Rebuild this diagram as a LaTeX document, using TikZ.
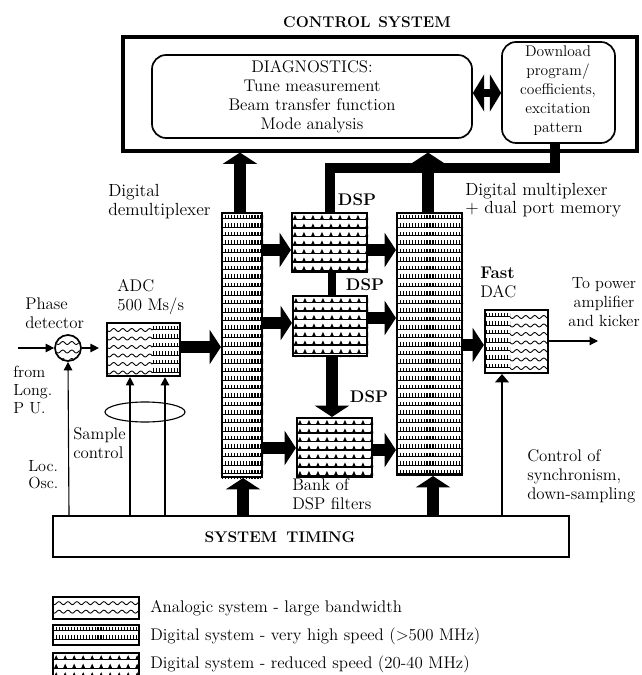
\documentclass[tikz,border=0pt]{standalone}
\usepackage{tikz}
\usetikzlibrary{arrows.meta,fit}

\tikzset{
  blk/.style={draw, line width=1.5pt, inner sep=0pt},
  bus/.style={line width=8pt, -{Triangle[width=24pt,length=8pt]}},
  dbus/.style={line width=6pt, {Triangle[width=26pt,length=8pt]}-{Triangle[width=26pt,length=8pt]}},
  sig/.style={line width=0.8pt, -{Triangle[width=6pt,length=6pt]}},
  % fill patterns of the three kinds of hardware
  analogfill/.style={path picture={
    \begin{scope}[shift={(path picture bounding box.north west)}]
      \foreach \r in {0,...,8}
        \draw[line width=0.6pt] plot[domain=0:100, samples=90, smooth] (\x, {7+\r*8.5+1.5*sin(40*\x)});
    \end{scope}}},
  fastfill/.style={path picture={
    \begin{scope}[shift={(path picture bounding box.north west)}]
      \foreach \r in {0,...,32} {
        \draw[line width=0.6pt] (0,6.5+\r*8.5) -- (100,6.5+\r*8.5);
        \draw[line width=2.6pt, dash pattern=on 0.8pt off 1.3pt] (1,4.5+\r*8.5) -- (100,4.5+\r*8.5);
      }
    \end{scope}}},
  slowfill/.style={path picture={
    \begin{scope}[shift={(path picture bounding box.north west)}]
      \foreach \r in {0,...,32} {
        \draw[line width=0.9pt] (0,7.5+\r*8.5) -- (100,7.5+\r*8.5);
        \foreach \c in {0,...,11}
          \fill (2+\c*9,7.5+\r*8.5) -- (4+\c*9,3+\r*8.5) -- (6+\c*9,7.5+\r*8.5) -- cycle;
      }
    \end{scope}}},
}

\begin{document}
\begin{tikzpicture}[x=0.025cm, y=-0.025cm,
    every node/.style={font=\fontsize{12}{13.5}\selectfont}]
        \useasboundingbox (0,0) rectangle (642,675);
        % Control system
        \node[font=\bfseries\fontsize{11}{13}\selectfont] (ctrltitle) at (367,22) {CONTROL\hspace{0.5em}SYSTEM};
        \node[blk, line width=2.2pt, fit={(123,37) (637,151)}] (ctrl) {};
        \node[draw, line width=1.2pt, rounded corners=10pt, inner sep=0pt, fit={(152,55) (472,138)}] (diag) {};
        \node[align=center] (diagtxt) at (312,96.5) {DIAGNOSTICS:\\Tune measurement\\Beam transfer function\\Mode analysis};
        \node[draw, line width=1.2pt, rounded corners=10pt, inner sep=0pt, fit={(502,42) (615,143)}] (dload) {};
        \node[align=center, font=\fontsize{11}{13.5}\selectfont] (dloadtxt) at (558,91) {Download\\program/\\coefficients,\\excitation\\pattern};
        % Processing blocks
        \node[blk, fit={(222,213) (262,477)}] (demux) {};
        \node[blk, fit={(397,213) (462,475)}] (mux) {};
        \node[blk, fit={(292,213) (367,272)}] (dsp1) {};
        \node[blk, fit={(293,296) (367,356)}] (dsp2) {};
        \node[blk, fit={(297,418) (372,477)}] (bank) {};
        \path[fastfill] (demux.north west) rectangle (demux.south east);
        \path[fastfill] (mux.north west) rectangle (mux.south east);
        \path[slowfill] (dsp1.north west) rectangle (dsp1.south east);
        \path[slowfill] (dsp2.north west) rectangle (dsp2.south east);
        \path[slowfill] (bank.north west) rectangle (bank.south east);
        % Converters
        \path[analogfill] (107,323) rectangle (152,376);
        \path[fastfill] (152,323) rectangle (180,376);
        \node[blk, fit={(107,323) (180,376)}] (adc) {};
        \path[fastfill] (485,310) rectangle (510,373);
        \path[analogfill] (510,310) rectangle (548,373);
        \node[blk, fit={(485,310) (548,373)}] (dac) {};
        \node[circle, draw, line width=1.2pt, minimum size=0.65cm, inner sep=0pt] (pd) at (68,348) {};
        \path[analogfill] (pd.center) circle [radius=12];
        % Timing
        \node[draw, line width=1pt, inner sep=0pt, fit={(53,516) (569,557)}] (timing) {};
        \node[font=\bfseries\fontsize{11}{13}\selectfont] (timingtxt) at (280,537) {SYSTEM\hspace{0.6em}TIMING};
        \coordinate (pdin) at (18,348);
        \coordinate (dacout) at (598,341);
        % Labels
        \node[anchor=west, align=left, inner sep=0pt, font=\fontsize{12.5}{13.5}\selectfont] (demuxlbl) at (108,202) {Digital\\demultiplexer};
        \node[anchor=west, align=left, inner sep=0pt, font=\fontsize{12.5}{13}\selectfont] (muxlbl) at (465,200) {Digital multiplexer\\+ dual port memory};
        \node[font=\bfseries\fontsize{12}{13.5}\selectfont] (dsplbl1) at (357,200) {DSP};
        \node[font=\bfseries\fontsize{12}{13.5}\selectfont] (dsplbl2) at (365,285) {DSP};
        \node[font=\bfseries\fontsize{12}{13.5}\selectfont] (dsplbl3) at (369,397) {DSP};
        \node[anchor=west, align=left, inner sep=0pt] (banklbl) at (292,494.5) {Bank of\\DSP filters};
        \node[anchor=west, align=left, inner sep=0pt] (adclbl) at (117,297.5) {ADC\\500 Ms/s};
        \node[anchor=west, align=left, inner sep=0pt] (daclbl) at (480,282.5) {\textbf{Fast}\\DAC};
        \node[anchor=west, align=left, inner sep=0pt] (pdlbl) at (25,313.5) {Phase\\detector};
        \node[anchor=west, align=left, inner sep=0pt, font=\fontsize{11.5}{12.8}\selectfont] (pulbl) at (13,390) {from\\Long.\\P U.};
        \node[anchor=west, align=left, inner sep=0pt] (samplbl) at (73,443) {Sample\\control};
        \node[anchor=west, align=left, inner sep=0pt, font=\fontsize{11.5}{12}\selectfont] (osclbl) at (28,475) {Loc.\\Osc.};
        \node[align=center, font=\fontsize{11.5}{13.5}\selectfont] (outlbl) at (604,302) {To power\\amplifier\\and kicker};
        \node[anchor=west, align=left, inner sep=0pt] (synclbl) at (527,476) {Control of\\synchronism,\\down-sampling};
        % Edges
        \draw[bus] (demux.north -| 240,0) -- (ctrl.south -| 240,0);
        \draw[bus] (mux.north -| 428,0) -- (ctrl.south -| 428,0);
        \draw[line width=7pt] (dload.south -| 555,0) -- (555,168) -- (330,168) -- (dsp1.north -| 330,0);
        \draw[dbus] (diag.east |- 0,93) -- (dload.west |- 0,93);
        \draw[bus] (adc.east |- 0,347) -- (demux.west |- 0,347);
        \draw[bus] (demux.east |- 0,250) -- (dsp1.west |- 0,250);
        \draw[bus] (demux.east |- 0,323) -- (dsp2.west |- 0,323);
        \draw[bus] (demux.east |- 0,448) -- (bank.west |- 0,448);
        \draw[bus] (dsp1.east |- 0,250) -- (mux.west |- 0,250);
        \draw[bus] (dsp2.east |- 0,318) -- (mux.west |- 0,318);
        \draw[bus] (bank.east |- 0,450) -- (mux.west |- 0,450);
        \draw[line width=6pt] (dsp1.south -| 332,0) -- (dsp2.north -| 332,0);
        \draw[bus] (dsp2.south -| 332,0) -- (bank.north -| 332,0);
        \draw[bus] (mux.east |- 0,345) -- (dac.west |- 0,345);
        \draw[sig] (dac.east |- 0,341) -- (dacout);
        \draw[sig] (pdin) -- (pd.west);
        \draw[sig, shorten >=5pt] (pd.east) -- (adc.west |- pd.east);
        \draw[bus] (timing.north -| 243,0) -- (demux.south -| 243,0);
        \draw[bus] (timing.north -| 433,0) -- (mux.south -| 433,0);
        \draw[sig, -{Triangle[width=10pt,length=6pt]}] (timing.north -| 502,0) -- (dac.south -| 502,0);
        \draw[sig] (timing.north -| 130,0) -- (adc.south -| 130,0);
        \draw[sig, line width=1.6pt] (timing.north -| 165,0) -- (adc.south -| 165,0);
        \draw[sig] (timing.north -| 69,0) -- (pd.south);
        \draw[line width=0.8pt] (145,412) ellipse [x radius=40, y radius=10];
        % Legend
        \node[draw, line width=1.2pt, inner sep=0pt, fit={(53,597) (139,619)}] (leg1) {};
        \node[anchor=west, inner sep=0pt] (leg1txt) at (150,608) {Analogic system - large bandwidth};
        \node[draw, line width=1.2pt, inner sep=0pt, fit={(53,625) (139,645)}] (leg2) {};
        \node[anchor=west, inner sep=0pt] (leg2txt) at (150,636) {Digital system - very high speed (>500 MHz)};
        \node[draw, line width=1.2pt, inner sep=0pt, fit={(53,653) (139,690)}] (leg3) {};
        \node[anchor=west, inner sep=0pt] (leg3txt) at (150,664) {Digital system - reduced speed (20-40 MHz)};
        \path[analogfill] (leg1.north west) rectangle (leg1.south east);
        \path[fastfill] (leg2.north west) rectangle (leg2.south east);
        \path[slowfill] (leg3.north west) rectangle (leg3.south east);
    \end{tikzpicture}
\end{document}
